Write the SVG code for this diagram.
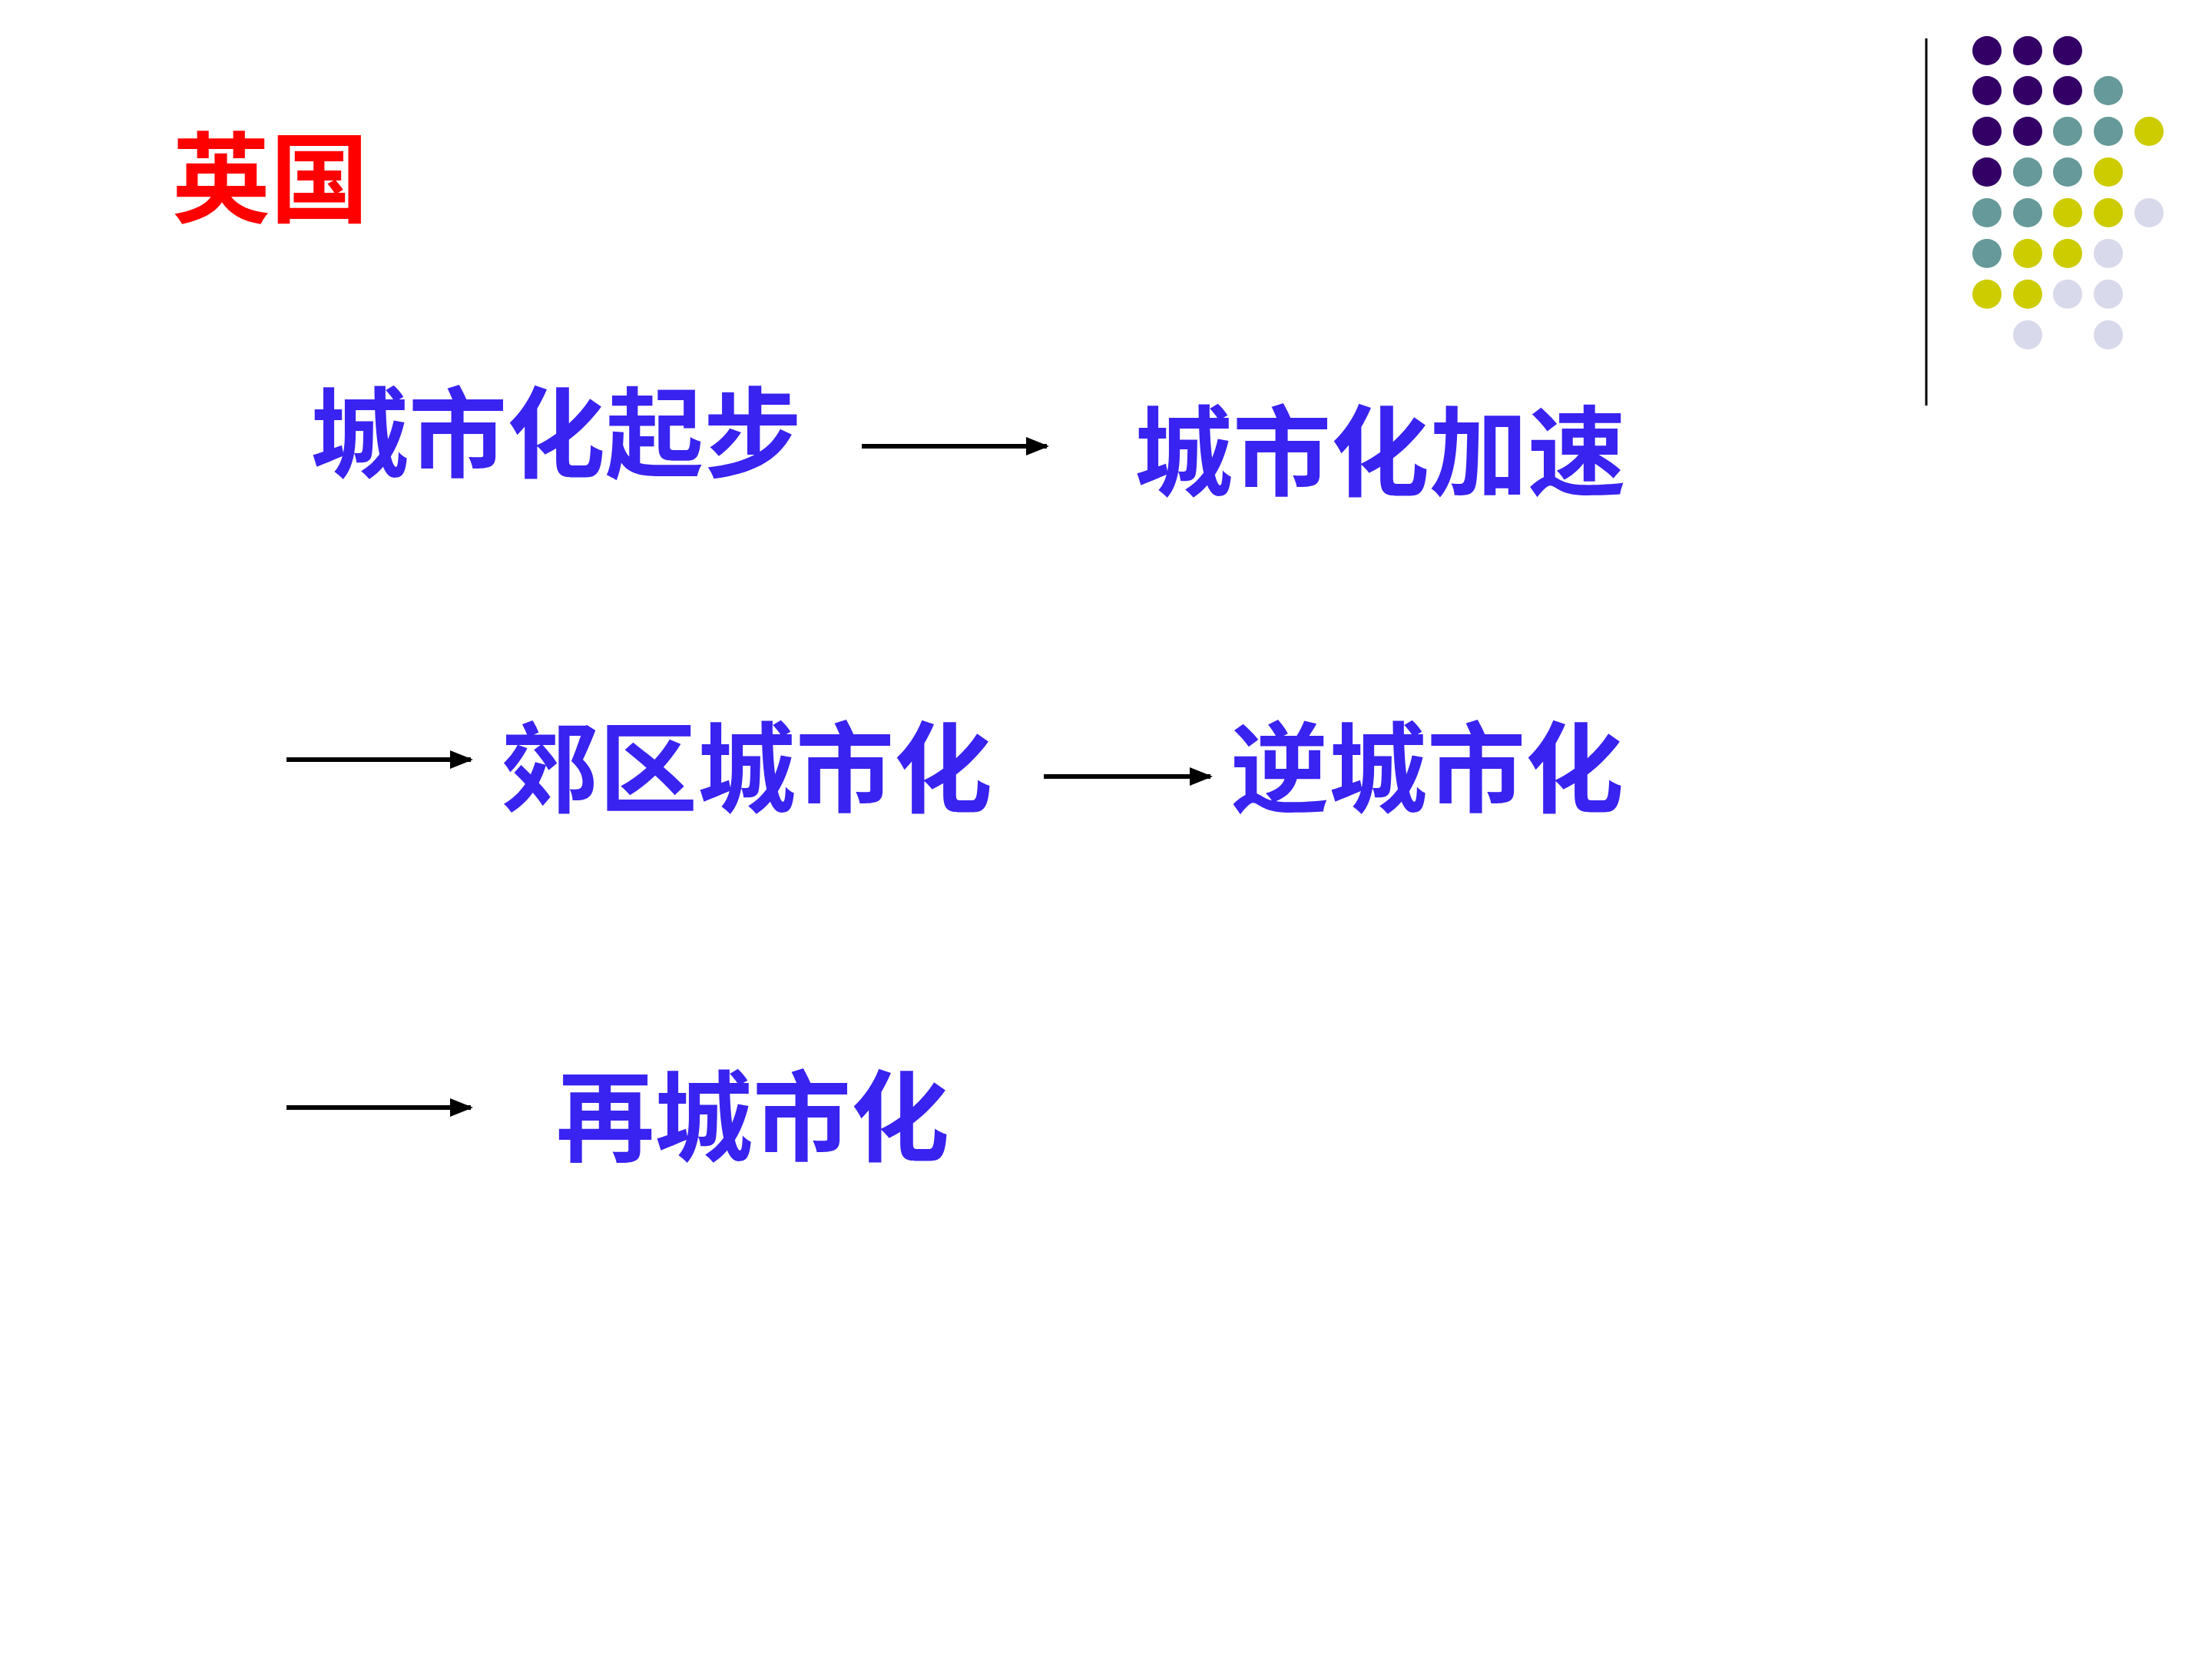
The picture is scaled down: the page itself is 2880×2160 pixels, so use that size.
<svg xmlns="http://www.w3.org/2000/svg" width="2880" height="2160" viewBox="0 0 2880 2160">
<style>
.t{font-family:"Noto Sans CJK SC","Liberation Sans",sans-serif;font-weight:bold;font-size:128px;fill:#3923F0}
.c{stroke:#000;stroke-width:6;fill:none;marker-end:url(#ah)}
.p{fill:#330066}.g{fill:#669999}.y{fill:#CCCC00}.l{fill:#D9D9EC}
</style>
<defs><marker id="ah" markerWidth="5" markerHeight="4" refX="4.5" refY="2" orient="auto" markerUnits="strokeWidth"><path d="M0,0L5,2L0,4z" fill="#000"/></marker></defs>
<rect width="2880" height="2160" fill="#fff"/>
<line x1="2508" y1="50" x2="2508" y2="528" stroke="#000" stroke-width="3"/>
<g id="dots">
<circle class="p" cx="2587" cy="66" r="19"/><circle class="p" cx="2640" cy="66" r="19"/><circle class="p" cx="2692" cy="66" r="19"/>
<circle class="p" cx="2587" cy="118" r="19"/><circle class="p" cx="2640" cy="118" r="19"/><circle class="p" cx="2692" cy="118" r="19"/><circle class="g" cx="2745" cy="118" r="19"/>
<circle class="p" cx="2587" cy="171" r="19"/><circle class="p" cx="2640" cy="171" r="19"/><circle class="g" cx="2692" cy="171" r="19"/><circle class="g" cx="2745" cy="171" r="19"/><circle class="y" cx="2798" cy="171" r="19"/>
<circle class="p" cx="2587" cy="224" r="19"/><circle class="g" cx="2640" cy="224" r="19"/><circle class="g" cx="2692" cy="224" r="19"/><circle class="y" cx="2745" cy="224" r="19"/>
<circle class="g" cx="2587" cy="277" r="19"/><circle class="g" cx="2640" cy="277" r="19"/><circle class="y" cx="2692" cy="277" r="19"/><circle class="y" cx="2745" cy="277" r="19"/><circle class="l" cx="2798" cy="277" r="19"/>
<circle class="g" cx="2587" cy="330" r="19"/><circle class="y" cx="2640" cy="330" r="19"/><circle class="y" cx="2692" cy="330" r="19"/><circle class="l" cx="2745" cy="330" r="19"/>
<circle class="y" cx="2587" cy="383" r="19"/><circle class="y" cx="2640" cy="383" r="19"/><circle class="l" cx="2692" cy="383" r="19"/><circle class="l" cx="2745" cy="383" r="19"/>
<circle class="l" cx="2640" cy="436" r="19"/><circle class="l" cx="2745" cy="436" r="19"/>
</g>
<g id="title"><text x="224" y="280" style="font-family:'Noto Sans CJK SC',sans-serif;font-weight:bold;font-size:128px;fill:#FF0000">英国</text></g>
<g id="n1"><text class="t" x="404" y="612">城市化起步</text></g>
<g id="n2"><text class="t" x="1477" y="636">城市化加速</text></g>
<g id="n3"><text class="t" x="652" y="1048">郊区城市化</text></g>
<g id="n4"><text class="t" x="1602" y="1048">逆城市化</text></g>
<g id="n5"><text class="t" x="724" y="1502">再城市化</text></g>
<g id="connectors">
<line class="c" x1="1122" y1="581" x2="1363" y2="581"/>
<line class="c" x1="373" y1="989" x2="613" y2="989"/>
<line class="c" x1="1359" y1="1011" x2="1576" y2="1011"/>
<line class="c" x1="373" y1="1442" x2="613" y2="1442"/>
</g>
</svg>
